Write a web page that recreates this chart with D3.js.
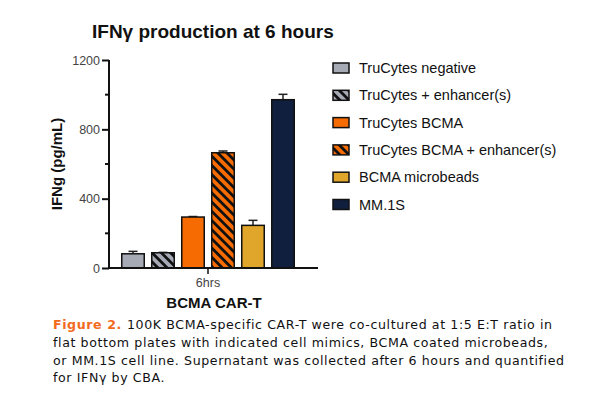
<!DOCTYPE html>
<html>
<head>
<meta charset="utf-8">
<script src="https://cdn.jsdelivr.net/npm/d3@7"></script>
<style>
  body { margin: 0; background: #fff; }
  svg text { font-family: "Liberation Sans", Arial, sans-serif; }
  svg text.caption { font-family: "DejaVu Sans", sans-serif; letter-spacing: 0.6px; }
</style>
</head>
<body>
<svg id="chart" width="600" height="400"></svg>
<script>
// data
const groups = ["6hrs"];
const series = ["TruCytes negative", "TruCytes + enhancer(s)", "TruCytes BCMA",
                "TruCytes BCMA + enhancer(s)", "BCMA microbeads", "MM.1S"];
const means = [82, 88, 294, 665, 246, 971];
const errs = [14, 2, 3, 10, 29, 31];
const yTicks = [0, 400, 800, 1200];
const yMinor = [200, 600, 1000];
const captionLines = [
  "100K BCMA-specific CAR-T were co-cultured at 1:5 E:T ratio in",
  "flat bottom plates with indicated cell mimics, BCMA coated microbeads,",
  "or MM.1S cell line. Supernatant was collected after 6 hours and quantified",
  "for IFNγ by CBA."
];

const fills = ["#a6aab5", "#a6aab5", "#f76c02", "#f76c02", "#e0a52b", "#101f3e"];
const hatched = [false, true, false, true, false, false];

const svg = d3.select("#chart");
const defs = svg.append("defs");

// diagonal stripe patterns for the "+ enhancer(s)" bars
[1, 3].forEach(i => {
  const p = defs.append("pattern")
    .attr("id", "hatch" + i)
    .attr("patternUnits", "userSpaceOnUse")
    .attr("width", 6.5)
    .attr("height", 6.5)
    .attr("patternTransform", "rotate(-45)");
  p.append("rect").attr("width", 6.5).attr("height", 6.5).attr("fill", fills[i]);
  p.append("rect").attr("width", 2.8).attr("height", 6.5).attr("fill", "#111");
});

const fillOf = i => hatched[i] ? `url(#hatch${i})` : fills[i];

const y = d3.scaleLinear().domain([0, 1200]).range([268, 60]);
const x0 = d3.scaleBand().domain(groups).range([118, 298]);
const x1 = d3.scaleBand().domain(series).range([0, x0.bandwidth()])
  .paddingInner(0.25).paddingOuter(0.125);

// title
svg.append("text")
  .attr("x", 92)
  .attr("y", 38)
  .attr("font-size", "19px")
  .attr("font-weight", "bold")
  .attr("fill", "#111")
  .text("IFNγ production at 6 hours");

// y axis
const yAxis = svg.append("g")
  .attr("transform", "translate(109,0)")
  .call(d3.axisLeft(y).tickValues(yTicks).tickSize(7).tickPadding(2).tickFormat(d3.format("d")));
yAxis.select(".domain").attr("stroke", "#111").attr("stroke-width", 2)
  .attr("d", `M0,${y(1200)}V${y(0)}`);
yAxis.selectAll(".tick line").attr("stroke", "#111").attr("stroke-width", 2);
yAxis.selectAll(".tick text").attr("font-size", "12.5px").attr("fill", "#444")
  .attr("font-family", "Liberation Sans, Arial, sans-serif");

svg.append("g")
  .selectAll("line")
  .data(yMinor)
  .join("line")
  .attr("x1", 105).attr("x2", 109)
  .attr("y1", d => y(d)).attr("y2", d => y(d))
  .attr("stroke", "#111").attr("stroke-width", 2);

svg.append("text")
  .attr("transform", `translate(62,${(y(0) + y(1200)) / 2}) rotate(-90)`)
  .attr("text-anchor", "middle")
  .attr("font-size", "15px")
  .attr("font-weight", "bold")
  .attr("fill", "#111")
  .text("IFNg (pg/mL)");

// bars
const bars = svg.append("g")
  .selectAll("g")
  .data(groups)
  .join("g")
  .attr("transform", d => `translate(${x0(d)},0)`);

const items = series.map((s, i) => ({ s, i, v: means[i], e: errs[i] }));

// error bars (upper only)
bars.selectAll("g.err")
  .data(items)
  .join("g")
  .attr("class", "err")
  .each(function (d) {
    const cx = x1(d.s) + x1.bandwidth() / 2;
    const g = d3.select(this);
    g.append("line")
      .attr("x1", cx).attr("x2", cx)
      .attr("y1", y(d.v)).attr("y2", y(d.v + d.e))
      .attr("stroke", "#222").attr("stroke-width", 1.5);
    g.append("line")
      .attr("x1", cx - 4.5).attr("x2", cx + 4.5)
      .attr("y1", y(d.v + d.e)).attr("y2", y(d.v + d.e))
      .attr("stroke", "#222").attr("stroke-width", 1.5);
  });

bars.selectAll("rect")
  .data(items)
  .join("rect")
  .attr("x", d => x1(d.s))
  .attr("y", d => y(d.v))
  .attr("width", x1.bandwidth())
  .attr("height", d => y(0) - y(d.v))
  .attr("fill", d => fillOf(d.i))
  .attr("stroke", "#111")
  .attr("stroke-width", 1.5);

// x axis
const xAxis = svg.append("g")
  .attr("transform", `translate(0,${y(0)})`)
  .call(d3.axisBottom(x0).tickSize(6).tickPadding(4));
xAxis.select(".domain").remove();
xAxis.append("line")
  .attr("x1", 108).attr("x2", 318)
  .attr("stroke", "#111").attr("stroke-width", 2);
xAxis.selectAll(".tick line").attr("stroke", "#111").attr("stroke-width", 1.5);
xAxis.selectAll(".tick text").attr("font-size", "12.5px").attr("fill", "#444")
  .attr("font-family", "Liberation Sans, Arial, sans-serif");

svg.append("text")
  .attr("x", 214)
  .attr("y", 308)
  .attr("text-anchor", "middle")
  .attr("font-size", "15px")
  .attr("font-weight", "bold")
  .attr("fill", "#111")
  .text("BCMA CAR-T");

// legend
const legend = svg.append("g").attr("transform", "translate(333,68)");
series.forEach((s, i) => {
  const row = legend.append("g").attr("transform", `translate(0,${i * 27.3})`);
  row.append("rect")
    .attr("x", 0).attr("y", -5)
    .attr("width", 16).attr("height", 10)
    .attr("fill", fillOf(i))
    .attr("stroke", "#111")
    .attr("stroke-width", 1.5);
  row.append("text")
    .attr("x", 26)
    .attr("y", 5)
    .attr("font-size", "14.5px")
    .attr("fill", "#111")
    .text(s);
});

// caption
const cap = svg.append("g");
captionLines.forEach((line, i) => {
  const t = cap.append("text")
    .attr("class", "caption")
    .attr("x", 53)
    .attr("y", 329 + i * 17.8)
    .attr("font-size", "12.6px")
    .attr("fill", "#111");
  if (i === 0) {
    t.append("tspan").attr("fill", "#f26b1d").attr("font-weight", "bold").text("Figure 2. ");
  }
  t.append("tspan").text(line);
});
</script>
</body>
</html>
